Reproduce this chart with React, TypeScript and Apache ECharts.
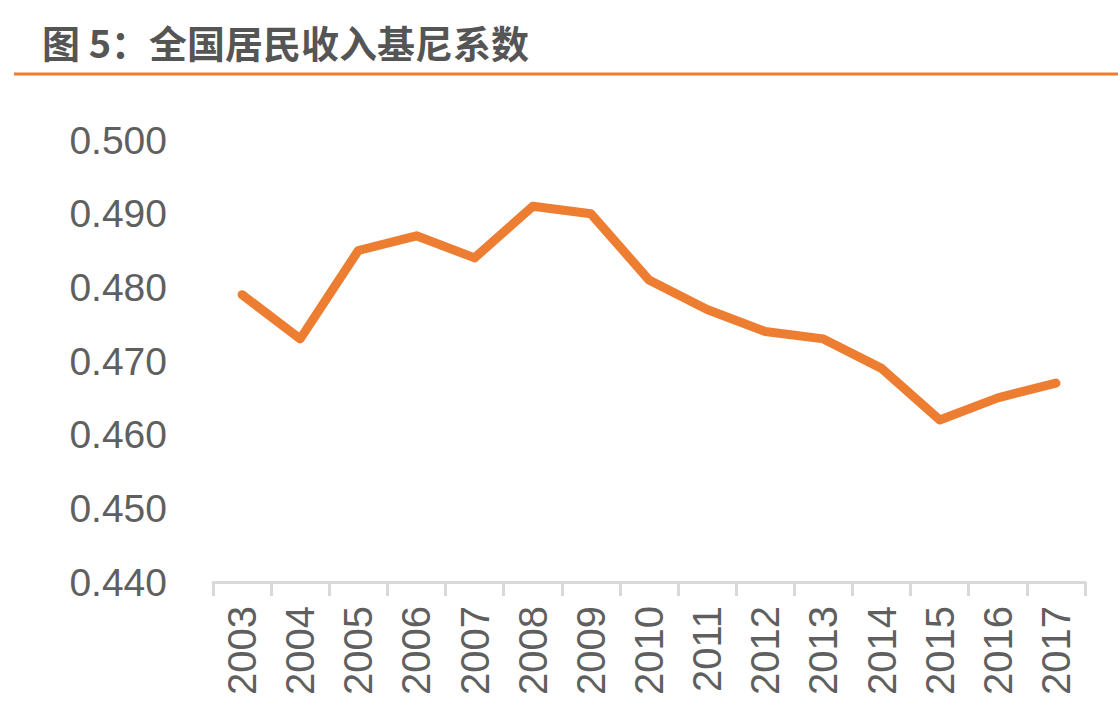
import React, { useEffect, useRef } from "react";
import * as echarts from "echarts";

const titleText = "图 5：全国居民收入基尼系数";
const years = ["2003", "2004", "2005", "2006", "2007", "2008", "2009", "2010", "2011", "2012", "2013", "2014", "2015", "2016", "2017"];
const gini = [0.479, 0.473, 0.485, 0.487, 0.484, 0.491, 0.49, 0.481, 0.477, 0.474, 0.473, 0.469, 0.462, 0.465, 0.467];
const yMin = 0.44;
const yMax = 0.5;
const yStep = 0.01;

export default function App() {
  const ref = useRef<HTMLDivElement>(null);
  useEffect(() => {
    document.body.style.margin = "0";
    const chart = echarts.init(ref.current!, undefined, { renderer: "svg" });
    chart.setOption({
      animation: false,
      backgroundColor: "#ffffff",
      title: {
        text: titleText,
        left: 37,
        top: 17,
        textStyle: {
          fontFamily: "'Noto Sans CJK SC', sans-serif",
          fontSize: 38,
          fontWeight: "bold",
          color: "#555555",
        },
      },
      graphic: [
        {
          type: "line",
          shape: { x1: 14, y1: 74, x2: 1118, y2: 74 },
          style: { stroke: "#ED7D31", lineWidth: 3 },
        },
      ],
      grid: { left: 213, right: 33, top: 140, bottom: 126 },
      xAxis: {
        type: "category",
        data: years,
        boundaryGap: true,
        axisLine: { show: true, lineStyle: { color: "#D9D9D9", width: 3 } },
        axisTick: { show: true, length: 14, lineStyle: { color: "#D9D9D9", width: 3 } },
        axisLabel: {
          rotate: 90,
          margin: 24,
          fontSize: 40,
          fontFamily: "'Liberation Sans', Arial, sans-serif",
          color: "#5f5f5f",
          interval: 0,
        },
      },
      yAxis: {
        type: "value",
        min: yMin,
        max: yMax,
        interval: yStep,
        axisLine: { show: false },
        axisTick: { show: false },
        splitLine: { show: false },
        axisLabel: {
          margin: 46,
          fontSize: 39,
          fontFamily: "'Liberation Sans', Arial, sans-serif",
          color: "#5f5f5f",
          formatter: (v: number) => v.toFixed(3),
        },
      },
      series: [
        {
          type: "line",
          data: gini,
          showSymbol: false,
          lineStyle: { color: "#ED7D31", width: 9, cap: "round", join: "round" },
        },
      ],
    });
    return () => chart.dispose();
  }, []);
  return <div ref={ref} style={{ width: 1118, height: 708 }} />;
}
